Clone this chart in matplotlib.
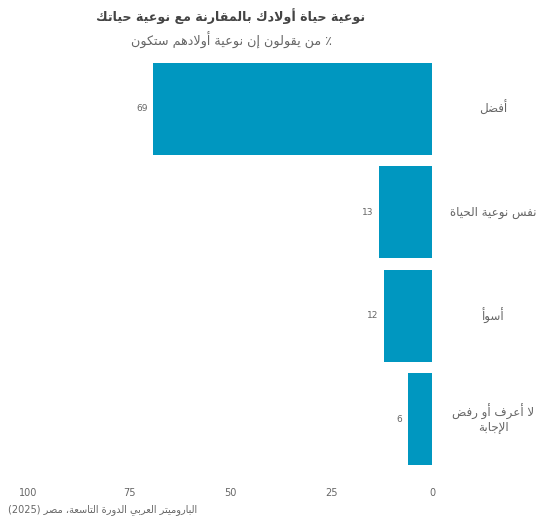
import re
import matplotlib
matplotlib.use('Agg')
import matplotlib.pyplot as plt

# Data
categories = ['أفضل', 'نفس نوعية الحياة', 'أسوأ', 'لا أعرف أو رفض\nالإجابة']
values = [69, 13, 12, 6]
ticks = [0, 25, 50, 75, 100]

title = 'نوعية حياة أولادك بالمقارنة مع نوعية حياتك'
subtitle = '٪ من يقولون إن نوعية أولادهم ستكون'
source = 'الباروميتر العربي الدورة التاسعة، مصر (2025)'

BAR_COLOR = '#0097c0'
TEXT_DARK = '#444444'
TEXT_GREY = '#666666'

# Arabic presentation forms: letter -> (first codepoint, number of forms)
# 4 forms = isolated, final, initial, medial ; 2 forms = isolated, final
FORMS = {
    '\u0621': (0xFE80, 1), '\u0622': (0xFE81, 2), '\u0623': (0xFE83, 2),
    '\u0624': (0xFE85, 2), '\u0625': (0xFE87, 2), '\u0626': (0xFE89, 4),
    '\u0627': (0xFE8D, 2), '\u0628': (0xFE8F, 4), '\u0629': (0xFE93, 2),
    '\u062A': (0xFE95, 4), '\u062B': (0xFE99, 4), '\u062C': (0xFE9D, 4),
    '\u062D': (0xFEA1, 4), '\u062E': (0xFEA5, 4), '\u062F': (0xFEA9, 2),
    '\u0630': (0xFEAB, 2), '\u0631': (0xFEAD, 2), '\u0632': (0xFEAF, 2),
    '\u0633': (0xFEB1, 4), '\u0634': (0xFEB5, 4), '\u0635': (0xFEB9, 4),
    '\u0636': (0xFEBD, 4), '\u0637': (0xFEC1, 4), '\u0638': (0xFEC5, 4),
    '\u0639': (0xFEC9, 4), '\u063A': (0xFECD, 4), '\u0641': (0xFED1, 4),
    '\u0642': (0xFED5, 4), '\u0643': (0xFED9, 4), '\u0644': (0xFEDD, 4),
    '\u0645': (0xFEE1, 4), '\u0646': (0xFEE5, 4), '\u0647': (0xFEE9, 4),
    '\u0648': (0xFEED, 2), '\u0649': (0xFEEF, 2), '\u064A': (0xFEF1, 4),
}
LAM_ALEF = {'\u0622': 0xFEF5, '\u0623': 0xFEF7, '\u0625': 0xFEF9, '\u0627': 0xFEFB}
MIRROR = {'(': ')', ')': '(', '[': ']', ']': '['}


def shape(s):
    # join letters into their contextual forms (logical order)
    units = []
    i = 0
    while i < len(s):
        c = s[i]
        if c == '\u0644' and i + 1 < len(s) and s[i + 1] in LAM_ALEF:
            units.append((LAM_ALEF[s[i + 1]], 2))
            i += 2
        else:
            units.append(FORMS.get(c, c))
            i += 1
    out = []
    for k, u in enumerate(units):
        if isinstance(u, str):
            out.append(u)
            continue
        start, n = u
        prev = units[k - 1] if k > 0 else None
        nxt = units[k + 1] if k + 1 < len(units) else None
        join_prev = n > 1 and isinstance(prev, tuple) and prev[1] == 4
        join_next = n == 4 and isinstance(nxt, tuple) and nxt[1] > 1
        if join_prev and join_next:
            idx = 3
        elif join_prev:
            idx = 1
        elif join_next:
            idx = 2
        else:
            idx = 0
        out.append(chr(start + idx))
    return ''.join(out)


def rtl(text):
    lines = []
    for line in text.split('\n'):
        runs = re.findall(r'[0-9]+|[^0-9]+', shape(line))
        vis = []
        for r in reversed(runs):
            if r[0].isdigit():
                vis.append(r)
            else:
                vis.append(''.join(MIRROR.get(c, c) for c in reversed(r)))
        lines.append(''.join(vis))
    return '\n'.join(lines)


plt.rcParams['font.family'] = ['DejaVu Sans']

fig = plt.figure(figsize=(5.36, 5.18), dpi=100)
ax = fig.add_axes([28 / 536, 1 - 471 / 518, 404 / 536, 414 / 518])

pos = list(range(len(categories)))
ax.barh(pos, values, height=0.89, color=BAR_COLOR)

ax.set_xlim(100, 0)
ax.set_ylim(len(categories) - 0.5, -0.5)
ax.set_xticks(ticks)
ax.set_xticklabels([str(t) for t in ticks])
ax.set_yticks([])
ax.tick_params(axis='x', length=0, pad=12, labelsize=7, labelcolor=TEXT_GREY)
for sp in ax.spines.values():
    sp.set_visible(False)

# value labels at the end of each bar
for p, v in zip(pos, values):
    ax.text(v + 1.4, p, str(v), ha='right', va='center',
            fontsize=6.5, color=TEXT_GREY)

# category labels on the right side
for p, c in zip(pos, categories):
    ax.text(1.151, p, rtl(c), transform=ax.get_yaxis_transform(),
            ha='center', va='center', multialignment='center',
            fontsize=8.6, color=TEXT_GREY, linespacing=1.1)

fig.text(231 / 536, 1 - 16 / 518, rtl(title), ha='center', va='center',
         fontsize=9.1, fontweight='bold', color=TEXT_DARK)
fig.text(231 / 536, 1 - 40 / 518, rtl(subtitle), ha='center', va='center',
         fontsize=9.2, color=TEXT_GREY)
fig.text(8 / 536, 1 - 510 / 518, rtl(source), ha='left', va='center',
         fontsize=7, color=TEXT_GREY)

fig.savefig('out.png', dpi=100)
